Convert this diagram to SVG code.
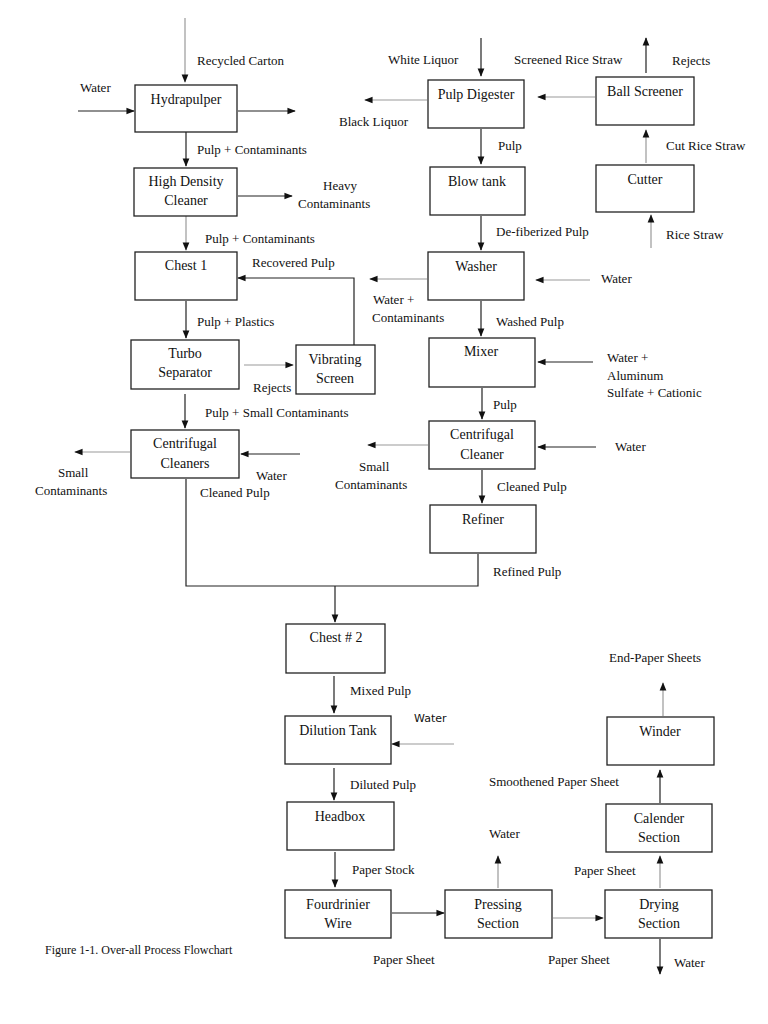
<svg xmlns="http://www.w3.org/2000/svg" width="768" height="1024" viewBox="0 0 768 1024">
<style>
text{font-family:"Liberation Serif",serif;font-size:13px;fill:#111}
.n text{text-anchor:middle;font-size:14px}
.n rect{fill:#fff;stroke:#222;stroke-width:1.3}
.k{stroke:#222;stroke-width:1.2;fill:none}
.g{stroke:#999;stroke-width:1.2;fill:none}
</style>
<defs>
<marker id="a" viewBox="0 0 10 10" refX="9" refY="5" markerWidth="7" markerHeight="7" orient="auto"><path d="M0,1 L10,5 L0,9 z" fill="#111"/></marker>
</defs>
<rect width="768" height="1024" fill="#fff"/>
<g id="connectors">
<path class="g" d="M185,18 V82" marker-end="url(#a)"/>
<path class="k" d="M78,111 H134" marker-end="url(#a)"/>
<path class="k" d="M238,111 H295" marker-end="url(#a)"/>
<path class="k" d="M186,132 V166" marker-end="url(#a)"/>
<path class="k" d="M238,196 H292" marker-end="url(#a)"/>
<path class="g" d="M186,216 V250" marker-end="url(#a)"/>
<path class="k" d="M186,301 V338" marker-end="url(#a)"/>
<path class="g" d="M244,365 H293" marker-end="url(#a)"/>
<path class="k" d="M354,345 V278 H238" marker-end="url(#a)"/>
<path class="k" d="M185,394 V428" marker-end="url(#a)"/>
<path class="g" d="M130,452 H75" marker-end="url(#a)"/>
<path class="k" d="M300,454 H241" marker-end="url(#a)"/>
<path class="k" d="M186,479 V586 H478 V554"/>
<path class="k" d="M335,586 V622" marker-end="url(#a)"/>
<path class="k" d="M481,38 V76" marker-end="url(#a)"/>
<path class="g" d="M427,100 H365" marker-end="url(#a)"/>
<path class="g" d="M595,97 H538" marker-end="url(#a)"/>
<path class="k" d="M646,73 V38" marker-end="url(#a)"/>
<path class="g" d="M646,163 V130" marker-end="url(#a)"/>
<path class="g" d="M651,248 V215" marker-end="url(#a)"/>
<path class="k" d="M481,129 V164" marker-end="url(#a)"/>
<path class="k" d="M481,216 V250" marker-end="url(#a)"/>
<path class="g" d="M427,279 H370" marker-end="url(#a)"/>
<path class="g" d="M590,280 H536" marker-end="url(#a)"/>
<path class="k" d="M481,301 V336" marker-end="url(#a)"/>
<path class="k" d="M593,362 H538" marker-end="url(#a)"/>
<path class="k" d="M482,388 V419" marker-end="url(#a)"/>
<path class="g" d="M428,445 H368" marker-end="url(#a)"/>
<path class="k" d="M596,447 H538" marker-end="url(#a)"/>
<path class="k" d="M482,470 V503" marker-end="url(#a)"/>
<path class="k" d="M334,676 V713" marker-end="url(#a)"/>
<path class="g" d="M454,744 H392" marker-end="url(#a)"/>
<path class="k" d="M334,768 V800" marker-end="url(#a)"/>
<path class="k" d="M335,852 V887" marker-end="url(#a)"/>
<path class="k" d="M392,913 H444" marker-end="url(#a)"/>
<path class="g" d="M553,918 H603" marker-end="url(#a)"/>
<path class="g" d="M498,888 V856" marker-end="url(#a)"/>
<path class="g" d="M660,888 V856" marker-end="url(#a)"/>
<path class="k" d="M660,803 V770" marker-end="url(#a)"/>
<path class="g" d="M663,716 V683" marker-end="url(#a)"/>
<path class="k" d="M660,939 V974" marker-end="url(#a)"/>
</g>
<g class="n" id="hydrapulper"><rect x="135" y="85" width="102" height="47"/><text x="186" y="104">Hydrapulper</text></g>
<g class="n" id="hdc"><rect x="134" y="168" width="103" height="48"/><text x="186" y="186">High Density</text><text x="186" y="205">Cleaner</text></g>
<g class="n" id="chest1"><rect x="135" y="252" width="102" height="48"/><text x="186" y="270">Chest 1</text></g>
<g class="n" id="turbo"><rect x="131" y="340" width="108" height="49"/><text x="185" y="358">Turbo</text><text x="185" y="377">Separator</text></g>
<g class="n" id="vib"><rect x="296" y="345" width="79" height="49"/><text x="335" y="364">Vibrating</text><text x="335" y="383">Screen</text></g>
<g class="n" id="cc1"><rect x="131" y="430" width="108" height="48"/><text x="185" y="448">Centrifugal</text><text x="185" y="468">Cleaners</text></g>
<g class="n" id="digester"><rect x="428" y="80" width="96" height="48"/><text x="476" y="99">Pulp Digester</text></g>
<g class="n" id="ball"><rect x="596" y="77" width="98" height="48"/><text x="645" y="96">Ball Screener</text></g>
<g class="n" id="blow"><rect x="430" y="167" width="95" height="48"/><text x="477" y="186">Blow tank</text></g>
<g class="n" id="cutter"><rect x="596" y="165" width="98" height="47"/><text x="645" y="184">Cutter</text></g>
<g class="n" id="washer"><rect x="428" y="252" width="96" height="48"/><text x="476" y="271">Washer</text></g>
<g class="n" id="mixer"><rect x="429" y="338" width="106" height="49"/><text x="481" y="356">Mixer</text></g>
<g class="n" id="cc2"><rect x="429" y="421" width="106" height="48"/><text x="482" y="439">Centrifugal</text><text x="482" y="459">Cleaner</text></g>
<g class="n" id="refiner"><rect x="430" y="505" width="106" height="48"/><text x="483" y="524">Refiner</text></g>
<g class="n" id="chest2"><rect x="286" y="624" width="99" height="49"/><text x="336" y="642">Chest # 2</text></g>
<g class="n" id="dilution"><rect x="285" y="716" width="106" height="48"/><text x="338" y="735">Dilution Tank</text></g>
<g class="n" id="headbox"><rect x="287" y="802" width="107" height="48"/><text x="340" y="821">Headbox</text></g>
<g class="n" id="fourdrinier"><rect x="285" y="890" width="106" height="48"/><text x="338" y="909">Fourdrinier</text><text x="338" y="928">Wire</text></g>
<g class="n" id="pressing"><rect x="445" y="890" width="107" height="48"/><text x="498" y="909">Pressing</text><text x="498" y="928">Section</text></g>
<g class="n" id="drying"><rect x="605" y="890" width="107" height="48"/><text x="659" y="909">Drying</text><text x="659" y="928">Section</text></g>
<g class="n" id="calender"><rect x="606" y="804" width="106" height="48"/><text x="659" y="823">Calender</text><text x="659" y="842">Section</text></g>
<g class="n" id="winder"><rect x="607" y="717" width="107" height="48"/><text x="660" y="736">Winder</text></g>
<g id="labels">
<text x="197" y="65">Recycled Carton</text>
<text x="80" y="92">Water</text>
<text x="197" y="154">Pulp + Contaminants</text>
<text x="323" y="190">Heavy</text>
<text x="298" y="208">Contaminants</text>
<text x="205" y="243">Pulp + Contaminants</text>
<text x="252" y="267">Recovered Pulp</text>
<text x="197" y="326">Pulp + Plastics</text>
<text x="253" y="392">Rejects</text>
<text x="205" y="417">Pulp + Small Contaminants</text>
<text x="58" y="477">Small</text>
<text x="35" y="495">Contaminants</text>
<text x="256" y="480">Water</text>
<text x="200" y="497">Cleaned Pulp</text>
<text x="388" y="64">White Liquor</text>
<text x="514" y="64">Screened Rice Straw</text>
<text x="672" y="65">Rejects</text>
<text x="339" y="126">Black Liquor</text>
<text x="498" y="150">Pulp</text>
<text x="666" y="150">Cut Rice Straw</text>
<text x="496" y="236">De-fiberized Pulp</text>
<text x="666" y="239">Rice Straw</text>
<text x="601" y="283">Water</text>
<text x="373" y="304">Water +</text>
<text x="372" y="322">Contaminants</text>
<text x="496" y="326">Washed Pulp</text>
<text x="607" y="362">Water +</text>
<text x="607" y="380">Aluminum</text>
<text x="607" y="397">Sulfate + Cationic</text>
<text x="493" y="409">Pulp</text>
<text x="615" y="451">Water</text>
<text x="359" y="471">Small</text>
<text x="335" y="489">Contaminants</text>
<text x="497" y="491">Cleaned Pulp</text>
<text x="493" y="576">Refined Pulp</text>
<text x="350" y="695">Mixed Pulp</text>
<text x="414" y="722" style="font-family:'DejaVu Sans',sans-serif;font-size:11px">Water</text>
<text x="350" y="789">Diluted Pulp</text>
<text x="352" y="874">Paper Stock</text>
<text x="489" y="838">Water</text>
<text x="489" y="786">Smoothened Paper Sheet</text>
<text x="574" y="875">Paper Sheet</text>
<text x="609" y="662">End-Paper Sheets</text>
<text x="373" y="964">Paper Sheet</text>
<text x="548" y="964">Paper Sheet</text>
<text x="674" y="967">Water</text>
<text x="45" y="954" style="font-size:12px">Figure 1-1. Over-all Process Flowchart</text>
</g>
</svg>
